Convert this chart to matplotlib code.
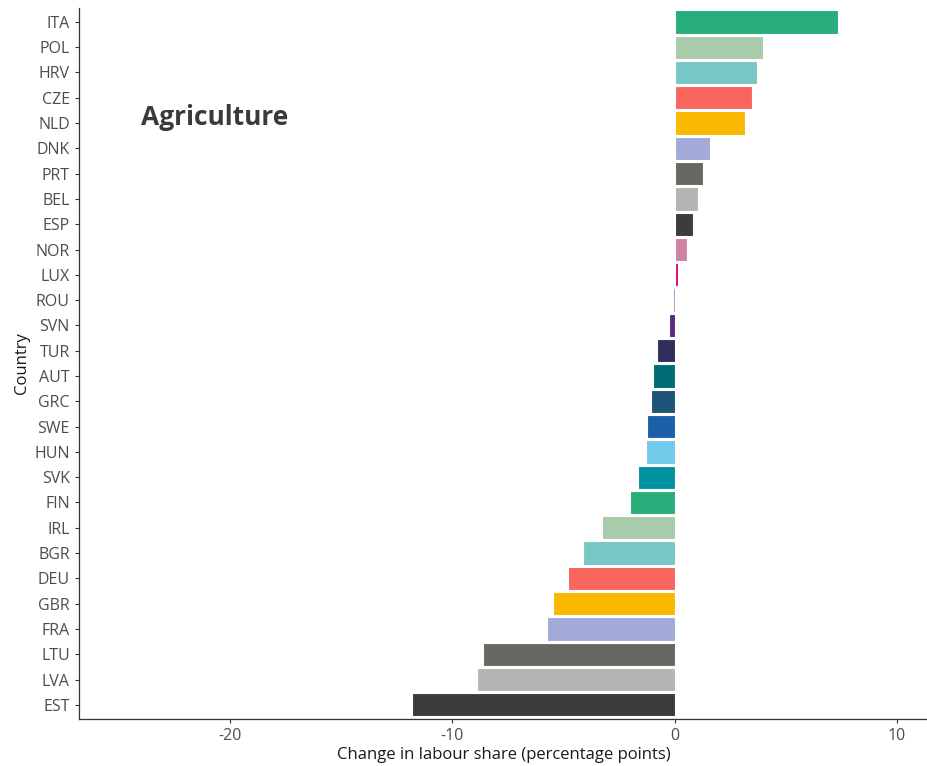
import matplotlib
matplotlib.use("Agg")
import matplotlib.pyplot as plt
import numpy as np

# ------------ DATA (top to bottom) ----------------------------

countries = ["ITA", "POL", "HRV", "CZE", "NLD", "DNK", "PRT", "BEL", "ESP", "NOR",
             "LUX", "ROU", "SVN", "TUR", "AUT", "GRC", "SWE", "HUN", "SVK", "FIN",
             "IRL", "BGR", "DEU", "GBR", "FRA", "LTU", "LVA", "EST"]
change = [7.35, 3.98, 3.72, 3.48, 3.17, 1.58, 1.28, 1.05, 0.82, 0.55,
          0.15, -0.05, -0.27, -0.8, -0.95, -1.08, -1.25, -1.3, -1.66, -2.0,
          -3.27, -4.1, -4.8, -5.45, -5.72, -8.6, -8.9, -11.8]
colors = ["#27ae7a", "#a8cbaa", "#79c7c4", "#f8665e", "#fbb800", "#a2aad8", "#686862",
          "#b4b4b2", "#3c3c3a", "#cf83a0", "#e6007e", "#a890c4", "#5a2d7c", "#2f2d5e",
          "#006d75", "#1d5478", "#1d5fa8", "#72cbea", "#0092a0", "#27ae7a", "#a8cbaa",
          "#79c7c4", "#f8665e", "#fbb800", "#a2aad8", "#686862", "#b4b4b2", "#3c3c3a"]
xticks = [-20, -10, 0, 10]

# ------------ PLOT ----------------------------

plt.rcParams['font.family'] = ['Open Sans', 'DejaVu Sans']
plt.rcParams['axes.unicode_minus'] = False

fig = plt.figure(figsize=(9.28, 7.66), dpi=100)
ax = fig.add_axes([0.085, 0.0614, 0.915, 0.9282])

y = np.arange(len(countries))[::-1]
ax.barh(y, change, height=0.92, color=colors, edgecolor='white', linewidth=0.8)

ax.set_yticks(y)
ax.set_yticklabels(countries)
ax.set_xticks(xticks)
ax.set_xlim(-26.8, 11.4)
ax.set_ylim(-0.56, len(countries) - 0.45)

ax.tick_params(axis='both', colors='#333333', labelcolor='#4d4d4d', labelsize=11.5,
               length=3, width=0.8)
for s in ['top', 'right']:
    ax.spines[s].set_visible(False)
for s in ['left', 'bottom']:
    ax.spines[s].set_color('#333333')
    ax.spines[s].set_linewidth(0.9)

ax.set_xlabel("Change in labour share (percentage points)", fontsize=12, color='#1a1a1a',
              labelpad=2)
ax.set_ylabel("Country", fontsize=12, color='#1a1a1a', labelpad=3)

ax.text(-24.0, 23.2, "Agriculture", fontsize=19, fontweight='bold', color='#3a3a3a',
        ha='left', va='center')

fig.savefig("out.png", dpi=100)
